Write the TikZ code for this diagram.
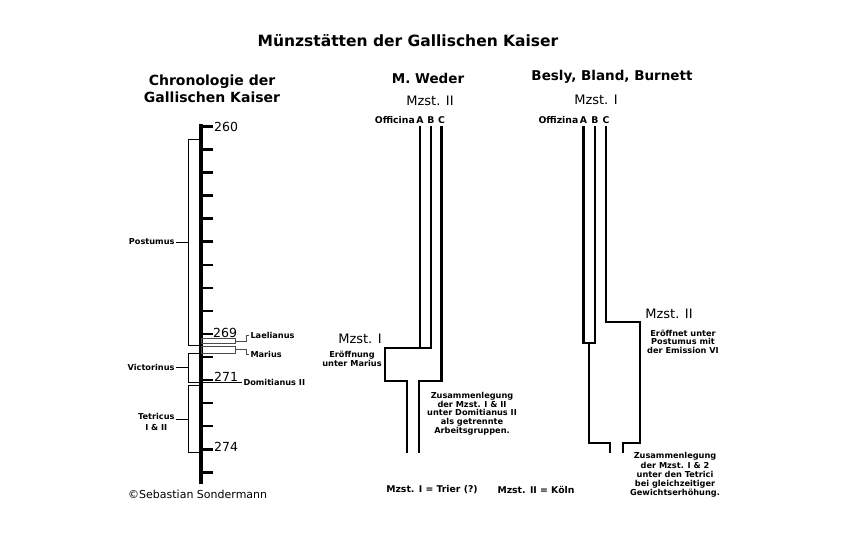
\documentclass[tikz,border=0pt]{standalone}
\usepackage{fontspec}
\setmainfont{DejaVu Sans}
\begin{document}
\begin{tikzpicture}[x=1pt,y=-1pt,
  lab/.style={font=\fontsize{8.2}{8.7}\selectfont\bfseries, inner sep=0pt, outer sep=1.5pt, align=center},
  offl/.style={font=\fontsize{9.3}{10}\selectfont\bfseries, inner sep=0pt},
  botl/.style={font=\fontsize{9.3}{10}\selectfont\bfseries, inner sep=0pt},
  num/.style={font=\fontsize{12.5}{14}\selectfont, inner sep=0pt, anchor=west},
  reg/.style={font=\fontsize{13}{14}\selectfont, inner sep=0pt},
  head/.style={font=\fontsize{13.5}{16}\selectfont\bfseries, inner sep=0pt, align=center},
  pipe/.style={line width=2.6pt},
  thinl/.style={line width=0.9pt},
  boxl/.style={line width=0.8pt, draw=black!70},
  axisl/.style={line width=4pt},
  tickl/.style={line width=2.6pt}]
\fill[white] (0,0) rectangle (851,536);
\useasboundingbox (0,0) rectangle (851,536);

% title
\node[head, font=\fontsize{15.5}{17}\selectfont\bfseries] (title) at (408,41) {Münzstätten der Gallischen Kaiser};

% ---------------- chronology ----------------
\node[head, font=\fontsize{14}{16.5}\selectfont\bfseries] (chron) at (212,89) {Chronologie der\\Gallischen Kaiser};
\coordinate (axtop) at (201,124);
\coordinate (axbot) at (201,484);
\draw[axisl] (axtop) -- (axbot);
\foreach \k in {0,...,15} \draw[tickl] (201,126.5+23.05*\k) -- ++(12,0);
\node[num] (y260) at (214,126.5) {260};
\node[num] (y269) at (213,332.5) {269};
\node[num] (y271) at (214,377) {271};
\node[num] (y274) at (214,447) {274};

% Postumus
\draw[thinl] (199,139) -- (188,139) -- (188,345) -- (199,345);
\node[lab, anchor=east] (post) at (176,242) {Postumus};
\coordinate (postb) at (188,242);
\draw[thinl] (post) -- (postb);

% Laelianus, Marius
\draw[boxl] (201,338) rectangle (235,343.5);
\draw[boxl] (201,346) rectangle (235,353);
\node[lab, anchor=west] (lael) at (249,335) {Laelianus};
\node[lab, anchor=west] (mar) at (249,354) {Marius};
\draw[boxl] (235,341) -- (246,341) -- (246,335) -- (lael.west);
\draw[boxl] (235,349.5) -- (246,349.5) -- (246,354) -- (mar.west);

% Victorinus
\draw[thinl] (199,353) -- (188,353) -- (188,382) -- (199,382);
\node[lab, anchor=east] (vict) at (176,367) {Victorinus};
\coordinate (victb) at (188,367);
\draw[thinl] (vict) -- (victb);

% Domitianus II
\node[lab, anchor=west] (domi) at (242,382) {Domitianus II};
\draw[thinl] (201,382) -- (domi.west);

% Tetricus
\draw[thinl] (199,385) -- (188,385) -- (188,452) -- (199,452);
\node[lab, anchor=east, font=\fontsize{8.2}{11}\selectfont\bfseries] (tetr) at (176,421.5) {Tetricus\\I \& II};
\coordinate (tetrb) at (188,419);
\draw[thinl] (tetr.east |- tetrb) -- (tetrb);

\node[font=\fontsize{11}{12}\selectfont, inner sep=0pt, anchor=west] (copy) at (128,494) {©Sebastian Sondermann};

% ---------------- M. Weder ----------------
\node[head] (weder) at (428,78) {M. Weder};
\node[reg] (wm2) at (430,101) {Mzst. II};
\node[offl, anchor=east] (woff) at (415,120.5) {Officina};
\node[offl] (wA) at (420,120.5) {A};
\node[offl] (wB) at (431,120.5) {B};
\node[offl] (wC) at (441.5,120.5) {C};
\draw[pipe] (420,126) -- (420,348);
\draw[pipe] (431,126) -- (431,348) -- (385,348) -- (385,381) -- (407,381) -- (407,453);
\draw[pipe] (441.5,126) -- (441.5,381) -- (419,381) -- (419,453);
\node[reg] (wm1) at (360,339) {Mzst. I};
\node[lab] (wer) at (352,359) {Eröffnung\\unter Marius};
\node[lab] (wzus) at (472,413.5) {Zusammenlegung\\der Mzst. I \& II\\unter Domitianus II\\als getrennte\\Arbeitsgruppen.};
\node[botl] (trier) at (432,490) {Mzst. I = Trier (?)};
\node[botl] (koeln) at (536,490) {Mzst. II = Köln};

% ---------------- Besly, Bland, Burnett ----------------
\node[head] (bbb) at (612,77) {Besly, Bland, Burnett};
\node[reg] (bm1) at (596,100) {Mzst. I};
\node[offl, anchor=east] (boff) at (578.5,120.5) {Offizina};
\node[offl] (bA) at (583.5,120.5) {A};
\node[offl] (bB) at (595,120.5) {B};
\node[offl] (bC) at (606,120.5) {C};
\draw[pipe] (583.5,126) -- (583.5,343) -- (595,343) -- (595,126);
\draw[pipe] (589,343) -- (589,443) -- (610,443) -- (610,453);
\draw[pipe] (606,126) -- (606,322) -- (640,322) -- (640,443) -- (623,443) -- (623,453);
\node[reg] (bm2) at (669,314) {Mzst. II};
\node[lab] (ber) at (683,341.7) {Eröffnet unter\\Postumus mit\\der Emission VI};
\node[lab, font=\fontsize{8.2}{9.2}\selectfont\bfseries] (bzus) at (675,475) {Zusammenlegung\\der Mzst. I \& 2\\unter den Tetrici\\bei gleichzeitiger\\Gewichtserhöhung.};
\end{tikzpicture}
\end{document}
